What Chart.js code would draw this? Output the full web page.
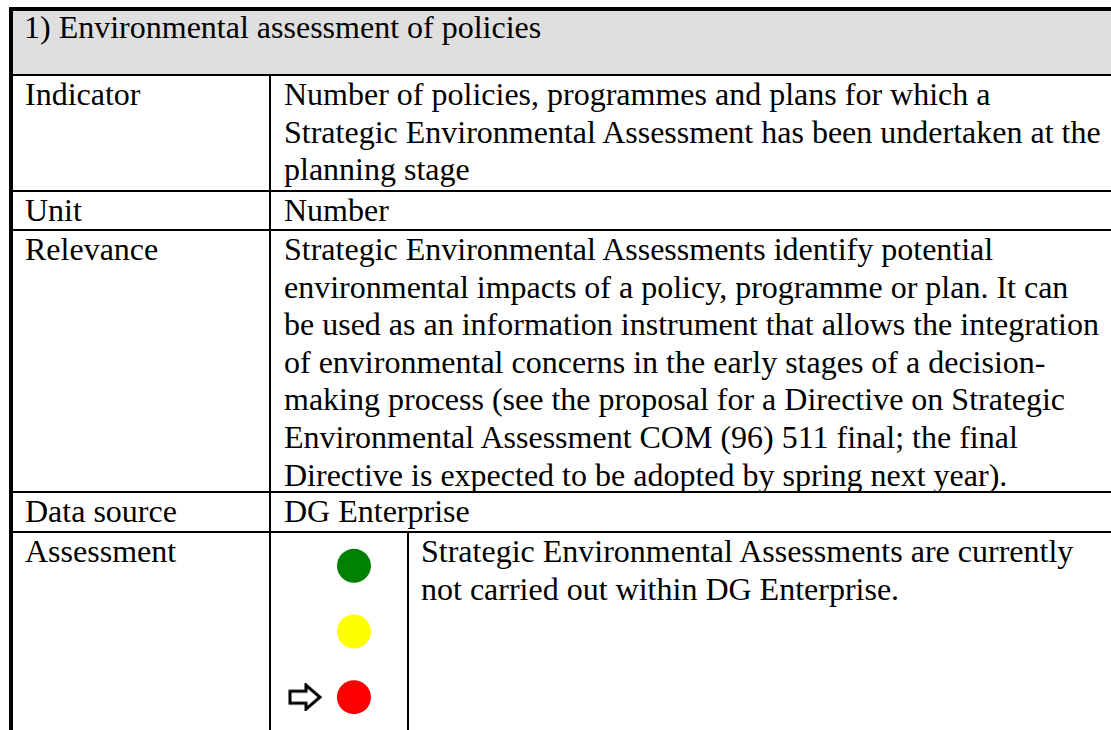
<!DOCTYPE html>
<html>
<head>
<script src="https://cdn.jsdelivr.net/npm/chart.js@4.4.0/dist/chart.umd.min.js"></script>
<style>
  html, body { margin: 0; padding: 0; background: #fff; }
  #page { position: relative; width: 1111px; height: 730px; overflow: hidden; background: #fff; }
  .ln { position: absolute; background: #000; }
  .tx { position: absolute; font: 32px "Liberation Serif", "Times New Roman", serif; line-height: 37.6px; white-space: nowrap; color: #000; }
</style>
</head>
<body>
<div id="page">
  <div style="position:absolute;left:13px;top:11px;width:1098px;height:63px;background:#dfdfdf"></div>

  <!-- borders -->
  <div class="ln" style="left:9px;top:7px;width:1102px;height:4px"></div>
  <div class="ln" style="left:9px;top:7px;width:4px;height:723px"></div>
  <div class="ln" style="left:13px;top:74px;width:1098px;height:2px"></div>
  <div class="ln" style="left:269px;top:76px;width:2px;height:654px"></div>
  <div class="ln" style="left:13px;top:190px;width:1098px;height:2px"></div>
  <div class="ln" style="left:13px;top:229px;width:1098px;height:2px"></div>
  <div class="ln" style="left:13px;top:491px;width:1098px;height:2px"></div>
  <div class="ln" style="left:13px;top:531px;width:1098px;height:2px"></div>
  <div class="ln" style="left:407px;top:533px;width:2px;height:197px"></div>

  <div class="tx" style="left:24px;top:9px">1) Environmental assessment of policies</div>

  <div class="tx" style="left:25px;top:76px">Indicator</div>
  <div class="tx" style="left:284px;top:76px">Number of policies, programmes and plans for which a<br>Strategic Environmental Assessment has been undertaken at the<br>planning stage</div>

  <div class="tx" style="left:25px;top:192px">Unit</div>
  <div class="tx" style="left:284px;top:192px">Number</div>

  <div class="tx" style="left:25px;top:231px">Relevance</div>
  <div class="tx" style="left:284px;top:231px">Strategic Environmental Assessments identify potential<br>environmental impacts of a policy, programme or plan. It can<br>be used as an information instrument that allows the integration<br>of environmental concerns in the early stages of a decision-<br>making process (see the proposal for a Directive on Strategic<br>Environmental Assessment COM (96) 511 final; the final<br>Directive is expected to be adopted by spring next year).</div>

  <div class="tx" style="left:25px;top:493px">Data source</div>
  <div class="tx" style="left:284px;top:493px">DG Enterprise</div>

  <div class="tx" style="left:25px;top:533px">Assessment</div>
  <div class="tx" style="left:421px;top:533px">Strategic Environmental Assessments are currently<br>not carried out within DG Enterprise.</div>

  <canvas id="lights" width="136" height="197" style="position:absolute;left:271px;top:533px"></canvas>
</div>

<script>
  // traffic light: top to bottom
  const lightNames = ["green", "yellow", "red"];
  const lightLevels = [3, 2, 1];
  const lightColors = ["#008000", "#ffff00", "#ff0000"];
  const selected = "red";

  const lightX = 0.61;   // column of the lamps inside the cell
  const arrowX = 0.25;   // column of the pointer arrow

  // outlined arrow used as point style
  const arrow = document.createElement("canvas");
  arrow.width = 34; arrow.height = 28;
  const a = arrow.getContext("2d");
  a.beginPath();
  a.moveTo(2, 8);
  a.lineTo(18, 8);
  a.lineTo(18, 2);
  a.lineTo(32, 14);
  a.lineTo(18, 26);
  a.lineTo(18, 20);
  a.lineTo(2, 20);
  a.closePath();
  a.fillStyle = "#fff";
  a.fill();
  a.lineWidth = 3;
  a.lineJoin = "miter";
  a.strokeStyle = "#000";
  a.stroke();

  const sel = lightNames.indexOf(selected);

  new Chart("lights", {
    type: "scatter",
    data: {
      datasets: [{
        data: lightNames.map((n, i) => ({x: lightX, y: lightLevels[i]})),
        backgroundColor: lightColors,
        borderWidth: 0,
        pointRadius: 17,
        pointHoverRadius: 17
      }, {
        data: [{x: arrowX, y: lightLevels[sel]}],
        pointStyle: arrow,
        pointRadius: 14
      }]
    },
    options: {
      responsive: false,
      animation: false,
      events: [],
      layout: { padding: 0, autoPadding: false },
      plugins: { legend: { display: false }, tooltip: { enabled: false } },
      scales: {
        x: { type: "linear", min: 0, max: 1, display: false },
        y: { type: "linear", min: 0.5, max: 3.5, display: false }
      }
    }
  });
</script>
</body>
</html>
